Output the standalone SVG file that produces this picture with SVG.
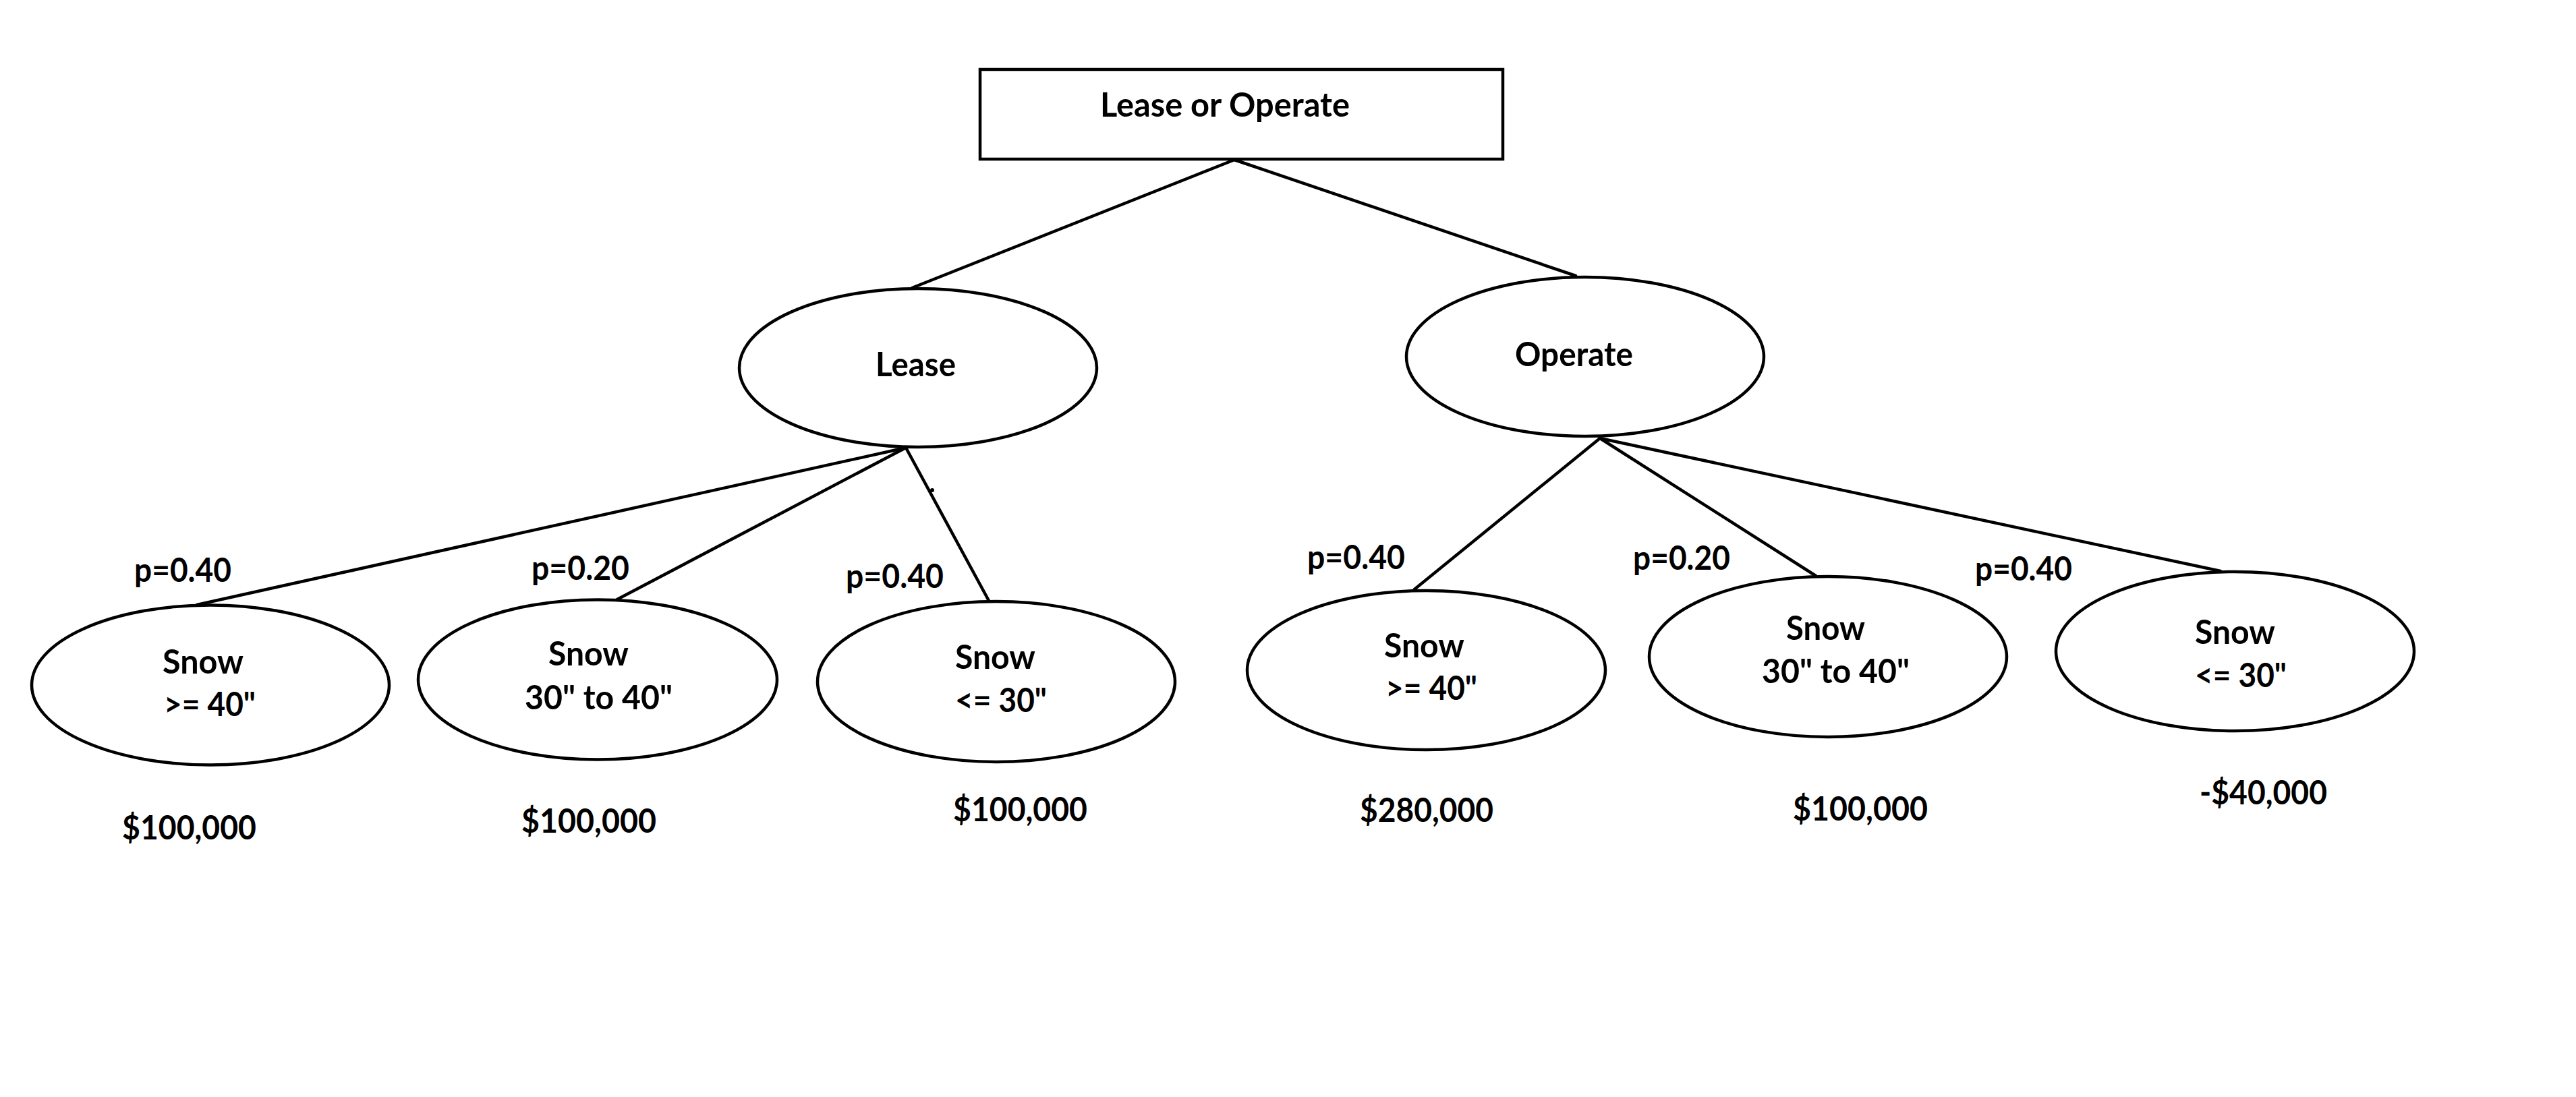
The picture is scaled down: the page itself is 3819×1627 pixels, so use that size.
<svg xmlns="http://www.w3.org/2000/svg" width="3819" height="1627" viewBox="0 0 3819 1627">
<style>
.shape{fill:#fff;stroke:#000;stroke-width:4.5}
.edge{stroke:#000;stroke-width:4.5;fill:none;stroke-linecap:round}
text{font-family:Lato,"Open Sans","Liberation Sans",sans-serif;font-weight:700;font-size:49px;fill:#000}
</style>
<rect x="0" y="0" width="3819" height="1627" fill="#fff"/>
<g id="connectors">
<line class="edge" x1="1830" y1="237" x2="1352" y2="427"/>
<line class="edge" x1="1830" y1="237" x2="2336" y2="409"/>
<line class="edge" x1="1343" y1="664" x2="292" y2="897"/>
<line class="edge" x1="1343" y1="664" x2="915" y2="889"/>
<line class="edge" x1="1343" y1="664" x2="1466" y2="891"/>
<line class="edge" x1="2372" y1="650" x2="2097" y2="874"/>
<line class="edge" x1="2372" y1="650" x2="2692" y2="854"/>
<line class="edge" x1="2372" y1="650" x2="3292" y2="847"/>
<circle cx="1382" cy="727" r="3" fill="#000"/>
</g>
<g id="root">
<rect class="shape" x="1453" y="103" width="775" height="133"/>
<text x="1631" y="173" textLength="370" lengthAdjust="spacingAndGlyphs">Lease or Operate</text>
</g>
<g id="lease">
<ellipse class="shape" cx="1361" cy="545.5" rx="265" ry="117.5"/>
<text x="1298" y="558" textLength="119" lengthAdjust="spacingAndGlyphs">Lease</text>
</g>
<g id="operate">
<ellipse class="shape" cx="2350" cy="529" rx="265" ry="118"/>
<text x="2246" y="543" textLength="175" lengthAdjust="spacingAndGlyphs">Operate</text>
</g>
<g id="lease-snow-ge40">
<ellipse class="shape" cx="312" cy="1016" rx="265" ry="118.5"/>
<text x="241" y="999" textLength="120" lengthAdjust="spacingAndGlyphs">Snow</text>
<text x="243" y="1062" textLength="136" lengthAdjust="spacingAndGlyphs">&gt;= 40&quot;</text>
<text x="199" y="863" textLength="144" lengthAdjust="spacingAndGlyphs">p=0.40</text>
<text x="181" y="1245" textLength="199" lengthAdjust="spacingAndGlyphs">$100,000</text>
</g>
<g id="lease-snow-30to40">
<ellipse class="shape" cx="886" cy="1008" rx="266" ry="118.5"/>
<text x="813" y="987" textLength="119" lengthAdjust="spacingAndGlyphs">Snow</text>
<text x="778" y="1052" textLength="219" lengthAdjust="spacingAndGlyphs">30&quot; to 40&quot;</text>
<text x="788" y="860" textLength="145" lengthAdjust="spacingAndGlyphs">p=0.20</text>
<text x="773" y="1235" textLength="200" lengthAdjust="spacingAndGlyphs">$100,000</text>
</g>
<g id="lease-snow-le30">
<ellipse class="shape" cx="1477" cy="1011" rx="265" ry="119"/>
<text x="1416" y="992" textLength="119" lengthAdjust="spacingAndGlyphs">Snow</text>
<text x="1416" y="1056" textLength="136" lengthAdjust="spacingAndGlyphs">&lt;= 30&quot;</text>
<text x="1254" y="872" textLength="145" lengthAdjust="spacingAndGlyphs">p=0.40</text>
<text x="1413" y="1218" textLength="199" lengthAdjust="spacingAndGlyphs">$100,000</text>
</g>
<g id="operate-snow-ge40">
<ellipse class="shape" cx="2114.5" cy="994" rx="265.5" ry="118"/>
<text x="2052" y="975" textLength="119" lengthAdjust="spacingAndGlyphs">Snow</text>
<text x="2054" y="1038" textLength="136" lengthAdjust="spacingAndGlyphs">&gt;= 40&quot;</text>
<text x="1938" y="844" textLength="145" lengthAdjust="spacingAndGlyphs">p=0.40</text>
<text x="2016" y="1219" textLength="198" lengthAdjust="spacingAndGlyphs">$280,000</text>
</g>
<g id="operate-snow-30to40">
<ellipse class="shape" cx="2710" cy="974" rx="265" ry="119"/>
<text x="2648" y="949" textLength="117" lengthAdjust="spacingAndGlyphs">Snow</text>
<text x="2612" y="1013" textLength="219" lengthAdjust="spacingAndGlyphs">30&quot; to 40&quot;</text>
<text x="2421" y="845" textLength="144" lengthAdjust="spacingAndGlyphs">p=0.20</text>
<text x="2658" y="1217" textLength="200" lengthAdjust="spacingAndGlyphs">$100,000</text>
</g>
<g id="operate-snow-le30">
<ellipse class="shape" cx="3313.5" cy="966" rx="265.5" ry="118"/>
<text x="3254" y="955" textLength="119" lengthAdjust="spacingAndGlyphs">Snow</text>
<text x="3254" y="1019" textLength="136" lengthAdjust="spacingAndGlyphs">&lt;= 30&quot;</text>
<text x="2928" y="861" textLength="144" lengthAdjust="spacingAndGlyphs">p=0.40</text>
<text x="3261" y="1193" textLength="189" lengthAdjust="spacingAndGlyphs">-$40,000</text>
</g>
</svg>
